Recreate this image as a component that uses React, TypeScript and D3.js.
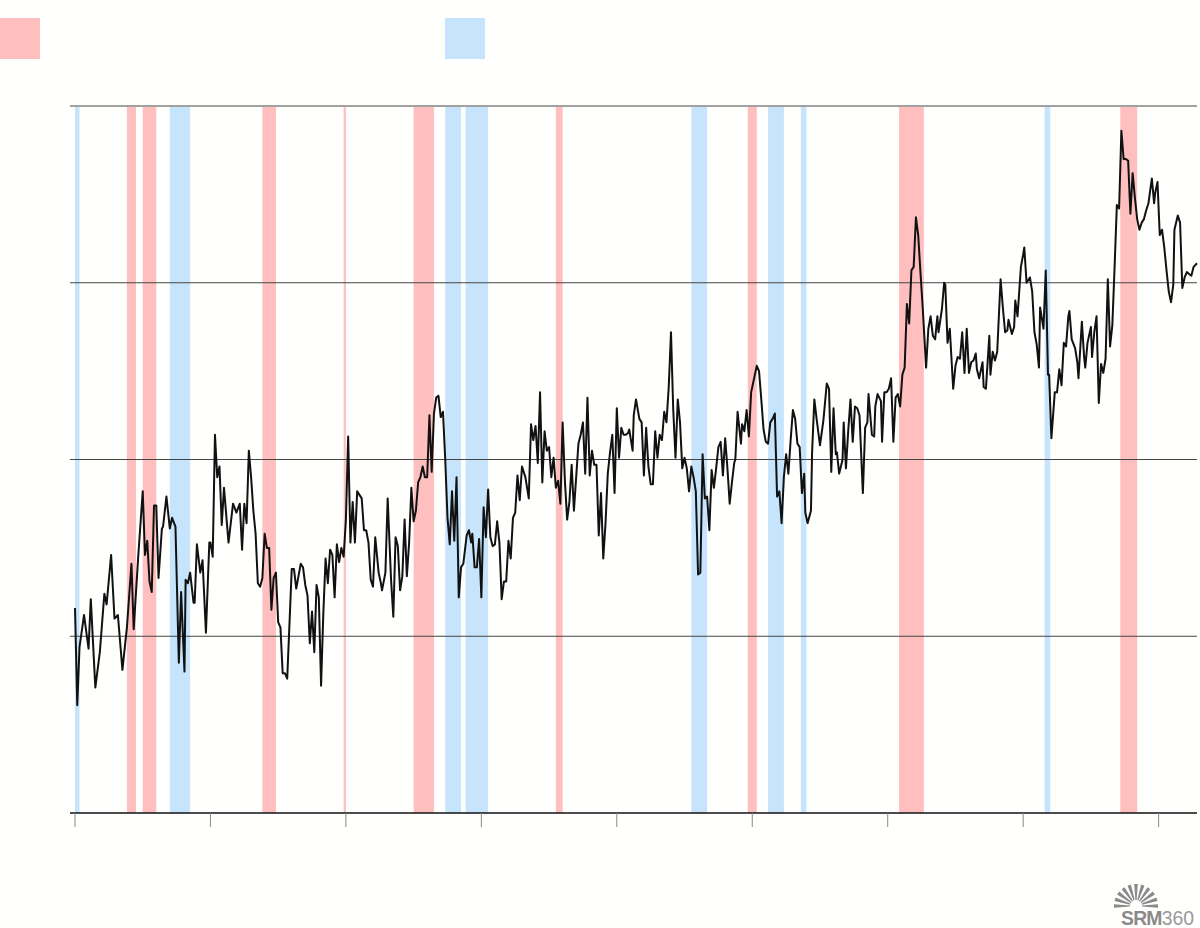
import * as d3 from 'd3'

// monthly index since Jan 1940, value (gridline units)
const observations: [number, number][] = [
  [0, 1.16], [2, 0.61], [4, 0.94], [8, 1.12], [12, 0.93], [14, 1.21], [18, 0.71], [22, 0.91],
  [26, 1.24], [28, 1.18], [32, 1.46], [35, 1.1], [38, 1.12], [42, 0.81], [46, 1.05], [50, 1.41],
  [52, 1.04], [56, 1.45], [60, 1.82], [62, 1.46], [64, 1.54], [66, 1.31], [68, 1.25], [70, 1.74],
  [72, 1.74], [74, 1.33], [77, 1.61], [78, 1.62], [81, 1.79], [84, 1.61], [86, 1.67], [89, 1.62],
  [92, 0.85], [94, 1.25], [97, 0.8], [98, 1.32], [100, 1.3], [102, 1.36], [105, 1.19], [106, 1.19],
  [108, 1.52], [111, 1.36], [113, 1.43], [116, 1.02], [119, 1.53], [120, 1.53], [122, 1.45], [124, 2.14],
  [126, 1.9], [128, 1.96], [130, 1.63], [132, 1.84], [136, 1.53], [140, 1.75], [143, 1.7], [146, 1.75],
  [148, 1.49], [150, 1.75], [152, 1.64], [154, 2.05], [156, 1.9], [158, 1.71], [160, 1.58], [162, 1.3],
  [164, 1.28], [166, 1.33], [168, 1.58], [170, 1.5], [172, 1.5], [174, 1.15], [176, 1.33], [178, 1.36],
  [180, 1.08], [182, 1.05], [184, 0.79], [186, 0.79], [188, 0.76], [192, 1.38], [194, 1.38], [196, 1.27],
  [198, 1.34], [200, 1.41], [202, 1.39], [204, 1.29], [206, 1.23], [208, 0.96], [210, 1.14], [212, 0.91],
  [214, 1.29], [216, 1.22], [218, 0.72], [220, 1.13], [222, 1.44], [224, 1.3], [226, 1.49], [228, 1.46],
  [230, 1.22], [232, 1.52], [234, 1.42], [236, 1.5], [238, 1.45], [240, 1.66], [242, 2.13], [244, 1.53],
  [246, 1.76], [248, 1.53], [250, 1.82], [252, 1.8], [254, 1.78], [256, 1.6], [258, 1.6], [260, 1.53],
  [262, 1.32], [264, 1.28], [266, 1.56], [269, 1.36], [271, 1.3], [272, 1.26], [275, 1.36], [277, 1.78],
  [280, 1.32], [282, 1.11], [284, 1.56], [286, 1.51], [288, 1.26], [290, 1.34], [292, 1.66], [294, 1.34],
  [296, 1.53], [298, 1.84], [300, 1.65], [302, 1.71], [304, 1.87], [306, 1.9], [308, 1.96], [310, 1.9],
  [312, 1.9], [314, 2.25], [316, 1.93], [318, 2.26], [320, 2.35], [322, 2.36], [324, 2.24], [326, 2.27],
  [328, 2.0], [330, 1.67], [332, 1.52], [334, 1.82], [336, 1.54], [338, 1.9], [340, 1.22], [342, 1.39],
  [344, 1.41], [347, 1.57], [349, 1.6], [351, 1.53], [352, 1.58], [354, 1.39], [356, 1.39], [358, 1.55],
  [360, 1.22], [362, 1.73], [364, 1.56], [366, 1.83], [368, 1.56], [370, 1.51], [372, 1.52], [374, 1.65],
  [376, 1.53], [378, 1.21], [380, 1.31], [382, 1.31], [384, 1.54], [386, 1.44], [388, 1.67], [390, 1.7],
  [392, 1.91], [394, 1.77], [396, 1.96], [399, 1.9], [402, 1.78], [404, 2.2], [406, 2.11], [408, 2.19],
  [410, 1.98], [412, 2.38], [414, 1.87], [416, 2.16], [418, 2.05], [420, 2.07], [422, 1.9], [424, 2.01],
  [426, 1.84], [428, 1.88], [430, 1.75], [432, 2.21], [434, 1.88], [436, 1.66], [438, 1.76], [440, 1.97],
  [442, 1.71], [444, 1.9], [446, 2.09], [448, 2.14], [450, 2.21], [452, 1.92], [454, 2.35], [456, 1.91],
  [458, 2.05], [460, 1.97], [462, 1.97], [464, 1.57], [466, 1.81], [468, 1.44], [470, 1.64], [472, 1.92],
  [474, 2.04], [476, 2.14], [478, 1.81], [480, 2.29], [482, 2.01], [484, 2.18], [486, 2.14], [488, 2.14],
  [490, 2.15], [491, 2.17], [494, 2.05], [495, 2.25], [497, 2.34], [500, 2.23], [502, 2.21], [504, 1.91],
  [506, 2.18], [508, 1.96], [510, 1.86], [512, 1.86], [514, 2.16], [516, 2.01], [518, 2.14], [520, 2.11],
  [522, 2.27], [524, 2.21], [526, 2.41], [528, 2.72], [530, 2.28], [532, 2.01], [534, 2.34], [536, 2.21],
  [538, 1.95], [540, 2.01], [542, 1.95], [544, 1.82], [546, 1.96], [548, 1.9], [550, 1.82], [552, 1.35],
  [554, 1.36], [556, 2.03], [558, 1.78], [560, 1.79], [562, 1.6], [564, 1.94], [566, 1.84], [568, 1.95],
  [570, 2.07], [572, 2.1], [574, 1.91], [576, 2.12], [578, 1.95], [580, 1.75], [582, 1.87], [584, 1.98],
  [585, 2.0], [587, 2.27], [590, 2.09], [591, 2.2], [593, 2.16], [595, 2.28], [597, 2.13], [599, 2.38],
  [601, 2.44], [604, 2.53], [606, 2.5], [608, 2.34], [610, 2.17], [612, 2.1], [614, 2.09], [616, 2.21],
  [618, 2.23], [620, 2.26], [622, 1.79], [624, 1.82], [626, 1.64], [628, 1.9], [630, 2.03], [632, 1.92],
  [634, 2.11], [636, 2.28], [638, 2.23], [640, 2.09], [642, 2.07], [644, 1.81], [646, 1.92], [647, 1.7],
  [649, 1.64], [652, 1.71], [653, 2.04], [655, 2.34], [657, 2.23], [660, 2.08], [663, 2.22], [666, 2.43],
  [668, 2.4], [670, 1.93], [672, 2.29], [674, 2.03], [675, 2.04], [677, 1.92], [680, 2.0], [681, 2.21],
  [683, 1.95], [685, 2.16], [687, 2.34], [689, 2.1], [691, 2.3], [693, 2.29], [695, 2.25], [698, 1.81],
  [700, 2.18], [702, 2.21], [703, 2.37], [706, 2.14], [708, 2.13], [709, 2.3], [711, 2.37], [714, 2.33],
  [715, 2.1], [717, 2.38], [719, 2.38], [721, 2.4], [723, 2.46], [725, 2.1], [727, 2.35], [729, 2.37],
  [731, 2.3], [733, 2.48], [735, 2.52], [737, 2.88], [739, 2.77], [741, 3.07], [743, 3.09], [745, 3.37],
  [747, 3.27], [749, 3.06], [751, 2.86], [754, 2.52], [756, 2.74], [758, 2.81], [760, 2.7], [762, 2.68],
  [764, 2.81], [765, 2.72], [768, 2.85], [770, 3.0], [771, 2.99], [773, 2.66], [775, 2.74], [778, 2.4],
  [780, 2.53], [782, 2.58], [784, 2.57], [786, 2.72], [788, 2.49], [790, 2.74], [792, 2.49], [794, 2.55],
  [796, 2.56], [798, 2.6], [799, 2.51], [801, 2.46], [804, 2.55], [805, 2.41], [807, 2.4], [810, 2.7],
  [811, 2.48], [813, 2.61], [815, 2.56], [817, 2.61], [820, 3.02], [822, 2.86], [824, 2.72], [826, 2.73],
  [827, 2.79], [830, 2.71], [832, 2.75], [833, 2.9], [835, 2.81], [838, 3.09], [840, 3.16], [841, 3.2],
  [843, 3.0], [846, 3.03], [848, 2.95], [850, 2.72], [852, 2.65], [854, 2.52], [855, 2.86], [858, 2.74],
  [860, 3.07], [862, 2.48], [863, 2.48], [865, 2.12], [868, 2.38], [870, 2.38], [872, 2.51], [874, 2.42],
  [876, 2.66], [878, 2.64], [880, 2.81], [881, 2.84], [883, 2.68], [886, 2.63], [888, 2.55], [889, 2.46],
  [892, 2.78], [894, 2.58], [895, 2.52], [897, 2.66], [900, 2.75], [901, 2.58], [903, 2.72], [905, 2.81],
  [907, 2.32], [909, 2.54], [911, 2.49], [913, 2.57], [915, 3.02], [917, 2.64], [919, 2.76], [921, 3.09],
  [923, 3.44], [925, 3.42], [927, 3.86], [929, 3.7], [931, 3.7], [933, 3.69], [935, 3.39], [937, 3.62],
  [939, 3.48], [941, 3.36], [943, 3.3], [945, 3.34], [947, 3.36], [949, 3.41], [951, 3.45], [954, 3.59],
  [956, 3.45], [957, 3.51], [959, 3.57], [961, 3.27], [963, 3.3], [965, 3.2], [967, 3.07], [969, 2.95],
  [971, 2.89], [973, 2.99], [974, 3.3], [977, 3.38], [979, 3.34], [981, 2.97], [983, 3.03], [985, 3.06],
  [987, 3.05], [989, 3.04], [991, 3.09], [994, 3.11],
]

// shaded periods, in months since Jan 1940
const redPeriods: [number, number][] = [
  [46, 54], [60, 72], [166, 178], [238, 240], [300, 318], [426, 432], [596, 604], [730, 752], [926, 941],
]
const bluePeriods: [number, number][] = [
  [0, 4], [84, 102], [328, 342], [346, 366], [546, 560], [614, 628], [643, 648], [859, 864],
]

const yTickValues = [0, 1, 2, 3, 4]
const xTickValues = [0, 120, 240, 360, 480, 600, 720, 840, 960]

const legendItems = [
  { color: '#ffbfbf', x: 0 },
  { color: '#c6e4fb', x: 445 },
]

const width = 1200
const height = 928
const plot = { left: 75, right: 1197, top: 106, bottom: 813 }
const redFill = '#ffbfbf'
const blueFill = '#c6e4fb'
const logoGrey = '#8a8a8a'

const App = () => {
  const x = d3.scaleLinear().domain([0, 994]).range([plot.left, plot.right])
  const y = d3.scaleLinear().domain([0, 4]).range([plot.bottom, plot.top])

  const path = d3
    .line<[number, number]>()
    .x((d) => x(d[0]))
    .y((d) => y(d[1]))(observations) ?? ''

  // sunburst mark above the wordmark
  const logo = { cx: 1136, cy: 906, r0: 6, r1: 22 }
  const rays = d3.range(11).map((i) => (Math.PI * i) / 10)
  const rayPath = (a: number) => {
    const ux = Math.cos(a)
    const uy = -Math.sin(a)
    const px = -uy
    const py = ux
    const w0 = 0.6
    const w1 = 1.8
    const ix = logo.cx + ux * logo.r0
    const iy = logo.cy + uy * logo.r0
    const ox = logo.cx + ux * logo.r1
    const oy = logo.cy + uy * logo.r1
    return `M${ix + px * w0},${iy + py * w0}L${ox + px * w1},${oy + py * w1}L${ox - px * w1},${oy - py * w1}L${ix - px * w0},${iy - py * w0}Z`
  }

  return (
    <div style={{ position: 'absolute', left: 0, top: 0 }}>
      <svg width={width} height={height} viewBox={`0 0 ${width} ${height}`} style={{ display: 'block' }}>
        <rect width={width} height={height} fill="#fffffd" />

        {legendItems.map((item) => (
          <rect key={item.x} x={item.x} y={18} width={40} height={41} fill={item.color} />
        ))}

        {redPeriods.map(([a, b]) => (
          <rect key={`r${a}`} x={x(a)} y={y(4) + 1} width={Math.max(x(b) - x(a), 2)} height={y(0) - y(4) - 1} fill={redFill} />
        ))}
        {bluePeriods.map(([a, b]) => (
          <rect key={`b${a}`} x={x(a)} y={y(4) + 1} width={Math.max(x(b) - x(a), 2)} height={y(0) - y(4) - 1} fill={blueFill} />
        ))}

        {yTickValues.map((v) => (
          <line
            key={v}
            x1={plot.left - 5}
            x2={plot.right}
            y1={y(v)}
            y2={y(v)}
            stroke={v === 0 ? '#111' : '#444'}
            strokeWidth={v === 0 ? 1.5 : 1}
          />
        ))}

        {xTickValues.map((m) => (
          <line key={m} x1={x(m)} x2={x(m)} y1={y(0)} y2={y(0) + 14} stroke="#888" strokeWidth={1} />
        ))}

        <path d={path} fill="none" stroke="#111" strokeWidth={2} strokeLinejoin="round" />

        <g fill={logoGrey}>
          {rays.map((a) => (
            <path key={a} d={rayPath(a)} />
          ))}
          <text
            x={1121}
            y={925}
            fontFamily="'Liberation Sans', Arial, sans-serif"
            fontSize={20}
            textLength={73}
            lengthAdjust="spacingAndGlyphs"
          >
            <tspan fontWeight="bold" letterSpacing={-0.8}>SRM</tspan>
            <tspan fill="#999">360</tspan>
          </text>
        </g>
      </svg>
    </div>
  )
}

export default App
